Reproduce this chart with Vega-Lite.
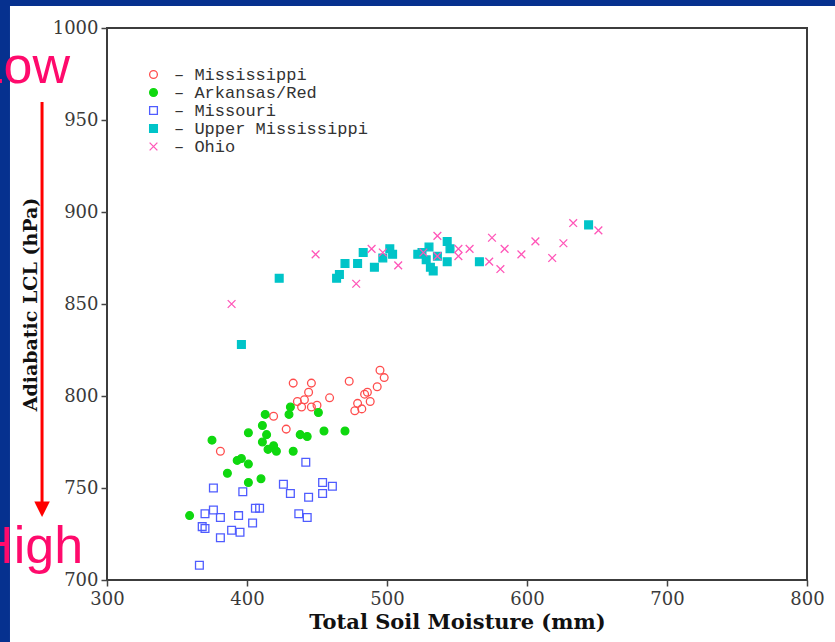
{
  "$schema": "https://vega.github.io/schema/vega-lite/v6.json",
  "width": 700,
  "height": 552,
  "autosize": {"type": "none"},
  "padding": {"left": 107, "top": 28, "right": 28, "bottom": 62},
  "background": "#06318f",
  "config": {
    "view": {"stroke": null},
    "axis": {
      "domain": false, "grid": false, "ticks": true, "tickColor": "#444", "tickSize": 6, "tickWidth": 1.5,
      "labelFont": "DejaVu Serif", "labelFontSize": 18, "labelColor": "#3a3a3a", "labelFlush": false, "labelOverlap": false,
      "titleFont": "DejaVu Serif", "titleFontWeight": "bold", "titleColor": "#111"
    }
  },
  "datasets": {
    "points": [
      {"river": "Mississippi", "moisture": 381, "lcl": 770},
      {"river": "Mississippi", "moisture": 419, "lcl": 789},
      {"river": "Mississippi", "moisture": 428, "lcl": 782},
      {"river": "Mississippi", "moisture": 433, "lcl": 807},
      {"river": "Mississippi", "moisture": 436, "lcl": 797},
      {"river": "Mississippi", "moisture": 439, "lcl": 794},
      {"river": "Mississippi", "moisture": 441, "lcl": 798},
      {"river": "Mississippi", "moisture": 444, "lcl": 802},
      {"river": "Mississippi", "moisture": 446, "lcl": 807},
      {"river": "Mississippi", "moisture": 446, "lcl": 794},
      {"river": "Mississippi", "moisture": 450, "lcl": 795},
      {"river": "Mississippi", "moisture": 459, "lcl": 799},
      {"river": "Mississippi", "moisture": 473, "lcl": 808},
      {"river": "Mississippi", "moisture": 477, "lcl": 792},
      {"river": "Mississippi", "moisture": 479, "lcl": 796},
      {"river": "Mississippi", "moisture": 482, "lcl": 793},
      {"river": "Mississippi", "moisture": 484, "lcl": 801},
      {"river": "Mississippi", "moisture": 486, "lcl": 802},
      {"river": "Mississippi", "moisture": 488, "lcl": 797},
      {"river": "Mississippi", "moisture": 493, "lcl": 805},
      {"river": "Mississippi", "moisture": 495, "lcl": 814},
      {"river": "Mississippi", "moisture": 498, "lcl": 810},
      {"river": "Arkansas/Red", "moisture": 359, "lcl": 735},
      {"river": "Arkansas/Red", "moisture": 375, "lcl": 776},
      {"river": "Arkansas/Red", "moisture": 386, "lcl": 758},
      {"river": "Arkansas/Red", "moisture": 393, "lcl": 765},
      {"river": "Arkansas/Red", "moisture": 396, "lcl": 766},
      {"river": "Arkansas/Red", "moisture": 401, "lcl": 763},
      {"river": "Arkansas/Red", "moisture": 401, "lcl": 753},
      {"river": "Arkansas/Red", "moisture": 401, "lcl": 780},
      {"river": "Arkansas/Red", "moisture": 410, "lcl": 755},
      {"river": "Arkansas/Red", "moisture": 411, "lcl": 775},
      {"river": "Arkansas/Red", "moisture": 411, "lcl": 784},
      {"river": "Arkansas/Red", "moisture": 413, "lcl": 790},
      {"river": "Arkansas/Red", "moisture": 414, "lcl": 779},
      {"river": "Arkansas/Red", "moisture": 415, "lcl": 771},
      {"river": "Arkansas/Red", "moisture": 419, "lcl": 773},
      {"river": "Arkansas/Red", "moisture": 421, "lcl": 770},
      {"river": "Arkansas/Red", "moisture": 430, "lcl": 790},
      {"river": "Arkansas/Red", "moisture": 431, "lcl": 794},
      {"river": "Arkansas/Red", "moisture": 433, "lcl": 770},
      {"river": "Arkansas/Red", "moisture": 438, "lcl": 779},
      {"river": "Arkansas/Red", "moisture": 443, "lcl": 778},
      {"river": "Arkansas/Red", "moisture": 451, "lcl": 791},
      {"river": "Arkansas/Red", "moisture": 455, "lcl": 781},
      {"river": "Arkansas/Red", "moisture": 470, "lcl": 781},
      {"river": "Missouri", "moisture": 366, "lcl": 708},
      {"river": "Missouri", "moisture": 376, "lcl": 750},
      {"river": "Missouri", "moisture": 397, "lcl": 748},
      {"river": "Missouri", "moisture": 370, "lcl": 736},
      {"river": "Missouri", "moisture": 376, "lcl": 738},
      {"river": "Missouri", "moisture": 368, "lcl": 729},
      {"river": "Missouri", "moisture": 370, "lcl": 728},
      {"river": "Missouri", "moisture": 381, "lcl": 734},
      {"river": "Missouri", "moisture": 381, "lcl": 723},
      {"river": "Missouri", "moisture": 389, "lcl": 727},
      {"river": "Missouri", "moisture": 395, "lcl": 726},
      {"river": "Missouri", "moisture": 394, "lcl": 735},
      {"river": "Missouri", "moisture": 404, "lcl": 731},
      {"river": "Missouri", "moisture": 406, "lcl": 739},
      {"river": "Missouri", "moisture": 409, "lcl": 739},
      {"river": "Missouri", "moisture": 426, "lcl": 752},
      {"river": "Missouri", "moisture": 431, "lcl": 747},
      {"river": "Missouri", "moisture": 442, "lcl": 764},
      {"river": "Missouri", "moisture": 444, "lcl": 745},
      {"river": "Missouri", "moisture": 437, "lcl": 736},
      {"river": "Missouri", "moisture": 443, "lcl": 734},
      {"river": "Missouri", "moisture": 454, "lcl": 753},
      {"river": "Missouri", "moisture": 454, "lcl": 747},
      {"river": "Missouri", "moisture": 461, "lcl": 751},
      {"river": "Upper Mississippi", "moisture": 396, "lcl": 828},
      {"river": "Upper Mississippi", "moisture": 423, "lcl": 864},
      {"river": "Upper Mississippi", "moisture": 464, "lcl": 864},
      {"river": "Upper Mississippi", "moisture": 466, "lcl": 866},
      {"river": "Upper Mississippi", "moisture": 470, "lcl": 872},
      {"river": "Upper Mississippi", "moisture": 479, "lcl": 872},
      {"river": "Upper Mississippi", "moisture": 483, "lcl": 878},
      {"river": "Upper Mississippi", "moisture": 491, "lcl": 870},
      {"river": "Upper Mississippi", "moisture": 497, "lcl": 875},
      {"river": "Upper Mississippi", "moisture": 502, "lcl": 880},
      {"river": "Upper Mississippi", "moisture": 504, "lcl": 877},
      {"river": "Upper Mississippi", "moisture": 522, "lcl": 877},
      {"river": "Upper Mississippi", "moisture": 525, "lcl": 878},
      {"river": "Upper Mississippi", "moisture": 528, "lcl": 874},
      {"river": "Upper Mississippi", "moisture": 530, "lcl": 881},
      {"river": "Upper Mississippi", "moisture": 531, "lcl": 870},
      {"river": "Upper Mississippi", "moisture": 533, "lcl": 868},
      {"river": "Upper Mississippi", "moisture": 536, "lcl": 876},
      {"river": "Upper Mississippi", "moisture": 543, "lcl": 884},
      {"river": "Upper Mississippi", "moisture": 543, "lcl": 873},
      {"river": "Upper Mississippi", "moisture": 545, "lcl": 880},
      {"river": "Upper Mississippi", "moisture": 566, "lcl": 873},
      {"river": "Upper Mississippi", "moisture": 644, "lcl": 893},
      {"river": "Ohio", "moisture": 389, "lcl": 850},
      {"river": "Ohio", "moisture": 449, "lcl": 877},
      {"river": "Ohio", "moisture": 478, "lcl": 861},
      {"river": "Ohio", "moisture": 489, "lcl": 880},
      {"river": "Ohio", "moisture": 497, "lcl": 878},
      {"river": "Ohio", "moisture": 508, "lcl": 871},
      {"river": "Ohio", "moisture": 526, "lcl": 878},
      {"river": "Ohio", "moisture": 536, "lcl": 887},
      {"river": "Ohio", "moisture": 536, "lcl": 876},
      {"river": "Ohio", "moisture": 551, "lcl": 880},
      {"river": "Ohio", "moisture": 551, "lcl": 876},
      {"river": "Ohio", "moisture": 559, "lcl": 880},
      {"river": "Ohio", "moisture": 573, "lcl": 873},
      {"river": "Ohio", "moisture": 575, "lcl": 886},
      {"river": "Ohio", "moisture": 581, "lcl": 869},
      {"river": "Ohio", "moisture": 584, "lcl": 880},
      {"river": "Ohio", "moisture": 596, "lcl": 877},
      {"river": "Ohio", "moisture": 606, "lcl": 884},
      {"river": "Ohio", "moisture": 618, "lcl": 875},
      {"river": "Ohio", "moisture": 626, "lcl": 883},
      {"river": "Ohio", "moisture": 633, "lcl": 894},
      {"river": "Ohio", "moisture": 651, "lcl": 890}
    ]
  },
  "layer": [
    {
      "data": {"values": [{}]},
      "mark": {"type": "rect", "fill": "white", "strokeWidth": 0},
      "encoding": {
        "x": {"datum": 230.7, "type": "quantitative", "scale": {"domain": [300, 800], "nice": false, "zero": false}},
        "x2": {"datum": 870},
        "y": {"datum": 1012, "type": "quantitative", "scale": {"domain": [700, 1000], "nice": false, "zero": false}},
        "y2": {"datum": 640}
      }
    },
    {
      "data": {"values": [{}]},
      "mark": {"type": "rect", "fill": null, "stroke": "#3c3c3c", "strokeWidth": 2},
      "encoding": {
        "x": {"datum": 300, "type": "quantitative", "scale": {"domain": [300, 800], "nice": false, "zero": false}},
        "x2": {"datum": 800},
        "y": {"datum": 700, "type": "quantitative", "scale": {"domain": [700, 1000], "nice": false, "zero": false}},
        "y2": {"datum": 1000}
      }
    },
    {
      "data": {"name": "points"},
      "mark": {"type": "point", "strokeWidth": 1.3, "opacity": 1},
      "encoding": {
        "x": {"field": "moisture", "type": "quantitative", "scale": {"domain": [300, 800], "nice": false, "zero": false},
              "axis": {"title": "Total Soil Moisture (mm)", "values": [300, 400, 500, 600, 700, 800], "format": "d", "labelPadding": 4, "titleFontSize": 21, "titlePadding": 3, "zindex": 2}},
        "y": {"field": "lcl", "type": "quantitative", "scale": {"domain": [700, 1000], "nice": false, "zero": false},
              "axis": {"title": "Adiabatic LCL (hPa)", "values": [700, 750, 800, 850, 900, 950, 1000], "format": "d", "labelPadding": 3, "titleFontSize": 19, "titlePadding": 12, "zindex": 2}},
        "stroke": {"field": "river", "type": "nominal",
          "scale": {"domain": ["Mississippi", "Arkansas/Red", "Missouri", "Upper Mississippi", "Ohio"], "range": ["#ff4d4d", "#0fd80f", "#4f5cff", "#00c4c8", "#ff55b8"]},
          "legend": {"orient": "none", "legendX": 38, "legendY": 38, "title": null, "padding": 0,
            "labelFont": "Liberation Mono", "labelFontSize": 17, "labelColor": "#333", "labelOffset": 12, "labelLimit": 0,
            "symbolStrokeWidth": 1.3, "rowPadding": 0, "labelExpr": "'– ' + datum.label"}},
        "fill": {"field": "river", "type": "nominal",
          "scale": {"domain": ["Mississippi", "Arkansas/Red", "Missouri", "Upper Mississippi", "Ohio"], "range": ["transparent", "#0fd80f", "transparent", "#00c4c8", "transparent"]}},
        "shape": {"field": "river", "type": "nominal",
          "scale": {"domain": ["Mississippi", "Arkansas/Red", "Missouri", "Upper Mississippi", "Ohio"], "range": ["circle", "circle", "square", "square", "M-1,-1L1,1M-1,1L1,-1"]}},
        "size": {"field": "river", "type": "nominal",
          "scale": {"domain": ["Mississippi", "Arkansas/Red", "Missouri", "Upper Mississippi", "Ohio"], "range": [60, 60, 72, 100, 50]}}
      }
    },
    {
      "data": {"values": [{"label": "Low"}]},
      "mark": {"type": "text", "align": "right", "baseline": "alphabetic", "font": "Liberation Sans", "fontSize": 52, "color": "#ff0a6c"},
      "encoding": {
        "x": {"datum": 273.6, "type": "quantitative", "scale": {"domain": [300, 800], "nice": false, "zero": false}},
        "y": {"datum": 970.1, "type": "quantitative", "scale": {"domain": [700, 1000], "nice": false, "zero": false}},
        "text": {"field": "label"}
      }
    },
    {
      "data": {"values": [{"label": "High"}]},
      "mark": {"type": "text", "align": "right", "baseline": "alphabetic", "font": "Liberation Sans", "fontSize": 52, "color": "#ff0a6c"},
      "encoding": {
        "x": {"datum": 282.9, "type": "quantitative", "scale": {"domain": [300, 800], "nice": false, "zero": false}},
        "y": {"datum": 709.2, "type": "quantitative", "scale": {"domain": [700, 1000], "nice": false, "zero": false}},
        "text": {"field": "label"}
      }
    },
    {
      "data": {"values": [{}]},
      "mark": {"type": "rule", "color": "#ff0000", "strokeWidth": 3},
      "encoding": {
        "x": {"datum": 253.6, "type": "quantitative", "scale": {"domain": [300, 800], "nice": false, "zero": false}},
        "y": {"datum": 959.8, "type": "quantitative", "scale": {"domain": [700, 1000], "nice": false, "zero": false}},
        "y2": {"datum": 741}
      }
    },
    {
      "data": {"values": [{}]},
      "mark": {"type": "point", "shape": "M-1,-1L1,-1L0,1Z", "filled": true, "color": "#ff0000", "size": 240, "opacity": 1},
      "encoding": {
        "x": {"datum": 253.6, "type": "quantitative", "scale": {"domain": [300, 800], "nice": false, "zero": false}},
        "y": {"datum": 738.4, "type": "quantitative", "scale": {"domain": [700, 1000], "nice": false, "zero": false}}
      }
    }
  ]
}
